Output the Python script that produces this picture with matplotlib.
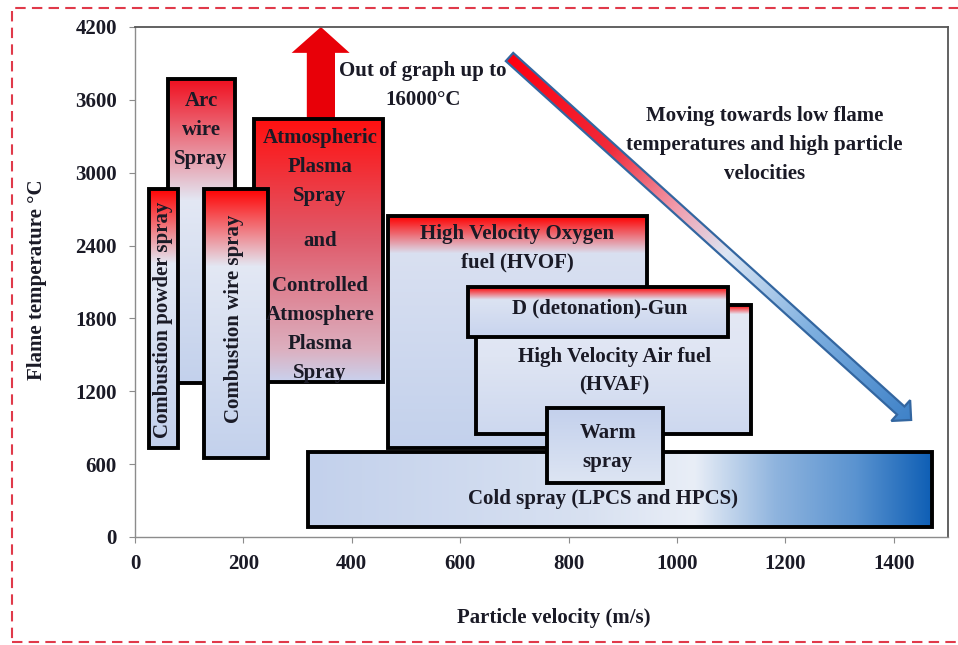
import numpy as np
import matplotlib
matplotlib.use("Agg")
import matplotlib.pyplot as plt
from matplotlib.patches import Rectangle, Polygon
from matplotlib.colors import LinearSegmentedColormap

# process boxes: velocity range (m/s) and flame temperature range (deg C)
names = ["Arc wire", "APS", "Combustion powder", "Combustion wire",
         "HVOF", "HVAF", "D-Gun", "Cold spray", "Warm spray"]
v_min = [60, 220, 25, 127, 466, 630, 614, 320, 760]
v_max = [185, 457, 80, 245, 944, 1137, 1095, 1470, 975]
t_min = [1270, 1275, 730, 650, 730, 850, 1650, 80, 445]
t_max = [3770, 3440, 2870, 2870, 2640, 1910, 2060, 700, 1065]

# labels inside boxes: text, velocity, temperature
box_texts = ["Arc\nwire\nSpray", "Atmospheric\nPlasma\nSpray", "and",
             "Controlled\nAtmosphere\nPlasma\nSpray",
             "High Velocity Oxygen\nfuel (HVOF)", "High Velocity Air fuel\n(HVAF)",
             "D (detonation)-Gun", "Cold spray (LPCS and HPCS)", "Warm\nspray"]
text_v = [122, 341, 341, 341, 705, 885, 858, 863, 872]
text_t = [3350, 3048, 2438, 1709, 2380, 1367, 1878, 313, 733]

rot_texts = ["Combustion powder spray", "Combustion wire spray"]
rot_v = [52, 182]
rot_t = [1790, 1800]

# arrows
up_arrow_v, up_arrow_base, up_arrow_tip = 343, 3440, 4200
diag_start = (691, 3953)
diag_end = (1432, 964)

x_ticks = [0, 200, 400, 600, 800, 1000, 1200, 1400]
y_ticks = [0, 600, 1200, 1800, 2400, 3000, 3600, 4200]

BLUE = "#c3d1ec"
LIGHT = "#e3e8f4"
RED = "#ff0000"
grads = {
    "Arc wire": [(0, BLUE), (0.6, LIGHT), (1, "#f01020")],
    "APS": [(0, "#c9d2ee"), (0.12, "#dcb0c0"), (0.55, "#e05a6a"), (1, "#ff1010")],
    "Combustion powder": [(0, BLUE), (0.71, LIGHT), (1, RED)],
    "Combustion wire": [(0, BLUE), (0.71, LIGHT), (1, RED)],
    "HVOF": [(0, BLUE), (0.84, "#d9e0f1"), (1, RED)],
    "HVAF": [(0, "#cdd8ef"), (0.6, "#dfe5f3"), (0.93, "#e4e8f4"), (1, RED)],
    "D-Gun": [(0, "#c8d4ee"), (0.75, "#dce3f2"), (1, RED)],
    "Warm spray": [(0, "#dde5f3"), (1, "#c3d0ec")],
}
cold_grad = [(0, "#c3d1ec"), (0.45, "#d8e1f1"), (0.62, "#e9eef7"),
             (0.75, "#8fb4de"), (0.88, "#5a93d0"), (1, "#0f5fb5")]
zorders = [2, 2, 3, 3, 2, 3, 4, 5, 6]

serif = "Liberation Serif"
TXT = "#1a1a26"

fig = plt.figure(figsize=(9.58, 6.45), dpi=100)
ax = fig.add_axes([135 / 958, 108 / 645, 813 / 958, 510 / 645])
ax.set_xlim(0, 1500)
ax.set_ylim(0, 4200)

for i, name in enumerate(names):
    x0, x1, y0, y1 = v_min[i], v_max[i], t_min[i], t_max[i]
    z = zorders[i]
    if name == "Cold spray":
        cmap = LinearSegmentedColormap.from_list(name, cold_grad)
        img = cmap(np.linspace(0, 1, 256))[None, :, :]
    else:
        cmap = LinearSegmentedColormap.from_list(name, grads[name])
        img = cmap(np.linspace(0, 1, 256))[:, None, :]
    ax.imshow(img, extent=(x0, x1, y0, y1), origin="lower", aspect="auto",
              interpolation="bilinear", zorder=z)
    ax.add_patch(Rectangle((x0, y0), x1 - x0, y1 - y0, fill=False,
                           edgecolor="black", lw=2.8, zorder=z + 0.1))

# red "out of graph" arrow
head_base = 3987
ax.add_patch(Polygon([(up_arrow_v - 26, up_arrow_base), (up_arrow_v - 26, head_base),
                      (up_arrow_v - 54, head_base), (up_arrow_v, up_arrow_tip),
                      (up_arrow_v + 53, head_base), (up_arrow_v + 26, head_base),
                      (up_arrow_v + 26, up_arrow_base)],
                     closed=True, facecolor="#e80008", edgecolor="none", zorder=1.5,
                     clip_on=False))

# diagonal gradient arrow, built in pixel-like space so it keeps its shape
sx = 813 / 1500
sy = 510 / 4200
p0 = np.array([diag_start[0] * sx, diag_start[1] * sy])
p1 = np.array([diag_end[0] * sx, diag_end[1] * sy])
d = (p1 - p0) / np.linalg.norm(p1 - p0)
n = np.array([-d[1], d[0]])
hw, hh, hl = 5.5, 14, 14
pts = [p0 + n * hw, p1 - d * hl + n * hw, p1 - d * hl + n * hh, p1,
       p1 - d * hl - n * hh, p1 - d * hl - n * hw, p0 - n * hw]
pts = [(p[0] / sx, p[1] / sy) for p in pts]
arrow = Polygon(pts, closed=True, facecolor="none", edgecolor="#3366a0", lw=1.6, zorder=7.1)
ax.add_patch(arrow)
xs = [p[0] for p in pts]
ys = [p[1] for p in pts]
gx, gy = np.meshgrid(np.linspace(min(xs), max(xs), 300), np.linspace(min(ys), max(ys), 300))
L = np.linalg.norm(p1 - p0)
t = ((gx * sx - p0[0]) * d[0] + (gy * sy - p0[1]) * d[1]) / L
arrow_cmap = LinearSegmentedColormap.from_list(
    "diag", [(0, "#ff0010"), (0.25, "#f02a3a"), (0.42, "#f0a0b0"), (0.54, "#dce6f4"),
             (0.75, "#7fb0e0"), (1, "#3f82c8")])
im = ax.imshow(arrow_cmap(np.clip(t, 0, 1)), extent=(min(xs), max(xs), min(ys), max(ys)),
               origin="lower", aspect="auto", interpolation="bilinear", zorder=7)
im.set_clip_path(arrow)

ax.set_xlim(0, 1500)
ax.set_ylim(0, 4200)

fs = 15
ls = 1.6
for s, x, y in zip(box_texts, text_v, text_t):
    ax.text(x, y, s, ha="center", va="center", fontsize=fs, fontweight="bold",
            family=serif, color=TXT, linespacing=ls, zorder=10)
for s, x, y in zip(rot_texts, rot_v, rot_t):
    ax.text(x, y, s, ha="center", va="center", rotation=90, fontsize=fs,
            fontweight="bold", family=serif, color=TXT, zorder=10)

ax.text(531, 3715, "Out of graph up to\n16000°C", ha="center", va="center", fontsize=fs,
        fontweight="bold", family=serif, color=TXT, linespacing=ls, zorder=10)
ax.text(1161, 3229, "Moving towards low flame\ntemperatures and high particle\nvelocities",
        ha="center", va="center", fontsize=fs, fontweight="bold", family=serif,
        color=TXT, linespacing=ls, zorder=10)

ax.set_xticks(x_ticks)
ax.set_yticks(y_ticks)
ax.tick_params(axis="x", length=4, pad=8, color="#8c8c8c", labelsize=fs)
ax.tick_params(axis="y", length=4, pad=9, color="#8c8c8c", labelsize=fs)
for lab in ax.get_xticklabels() + ax.get_yticklabels():
    lab.set_fontfamily(serif)
    lab.set_fontweight("bold")
    lab.set_color(TXT)
for side in ["left", "bottom"]:
    ax.spines[side].set_color("#8c8c8c")
    ax.spines[side].set_linewidth(1.0)
for side in ["top", "right"]:
    ax.spines[side].set_color("#555555")
    ax.spines[side].set_linewidth(1.3)

fig.text(37 / 958, 1 - 280 / 645, "Flame temperature °C", rotation=90, ha="center",
         va="center", fontsize=fs, fontweight="bold", family=serif, color=TXT)
fig.text(554 / 958, 1 - 618 / 645, "Particle velocity (m/s)", ha="center", va="center",
         fontsize=fs, fontweight="bold", family=serif, color=TXT)

# dashed red frame around the figure
fig.patches.append(Rectangle((12 / 958, 3 / 645), 0.995, 634 / 645, transform=fig.transFigure,
                             fill=False, edgecolor="#e03a4a", lw=1.5, linestyle=(0, (5, 3))))

fig.savefig("out.png", dpi=100)
